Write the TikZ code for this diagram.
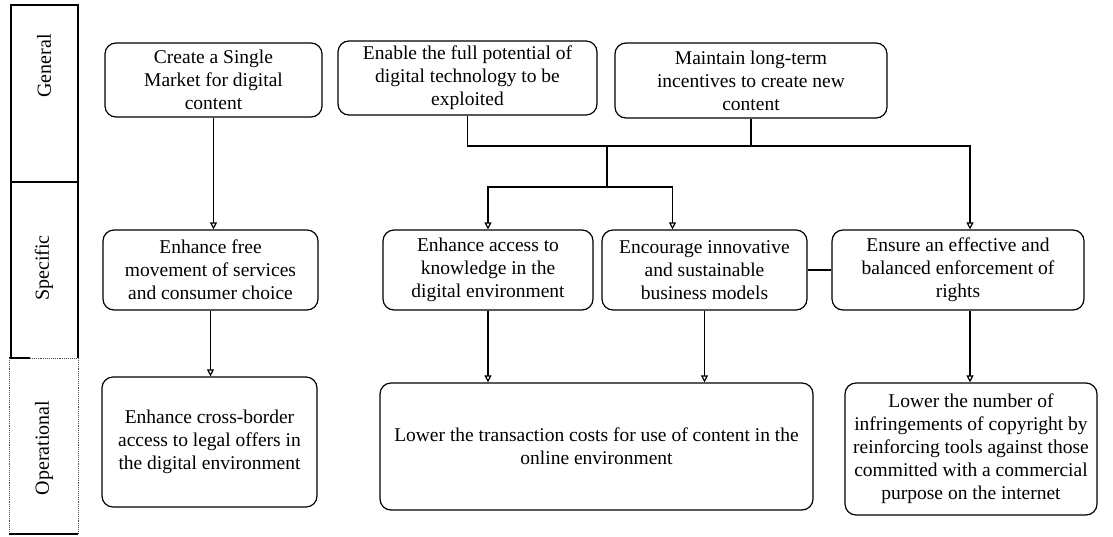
\documentclass[tikz,border=0pt]{standalone}
\usepackage{fontspec}
\setmainfont{Liberation Serif}
\usetikzlibrary{arrows.meta}
\begin{document}
\begin{tikzpicture}[x=1pt,y=-1pt,
  box/.style={draw, line width=1.2pt, rounded corners=11pt, align=center,
    font=\fontsize{19.5}{23}\selectfont, inner sep=0pt},
  conn/.style={line width=1.2pt},
  arr/.style={conn, -{Triangle[open,length=7pt,width=7pt]}},
  band/.style={line width=1.2pt},
  faint/.style={line width=0.9pt, densely dotted, black!70},
  lab/.style={rotate=90, font=\fontsize{20}{24}\selectfont}]
\useasboundingbox (0,0) rectangle (1113,536);

% left band
\draw[band] (11,182) |- (78,5) -- (78,182);
\draw[band] (11,182) -- (11,358);
\draw[band] (78,182) -- (78,358);
\draw[band] (11,182) -- (78,182);
\draw[band] (9,358) -- (30,358);
\draw[faint] (30,358) -- (78,358);
\draw[faint] (9,358) -- (9,534);
\draw[faint] (78,358) -- (78,534);
\draw[band] (9,534) -- (78,534);
\node[lab] (lgen) at (44,66) {General};
\node[lab] (lspe) at (44,268) {Specific};
\node[lab] (lope) at (44,448) {Operational};

% general
\node[box, minimum width=217pt, minimum height=74pt] (create) at (213.5,80) {Create a Single\\Market for digital\\content};
\node[box, minimum width=259pt, minimum height=74pt] (enable) at (467.5,78) {Enable the full potential of\\digital technology to be\\exploited};
\node[box, minimum width=272pt, minimum height=75pt] (maintain) at (751,80.5) {Maintain long-term\\incentives to create new\\content};

% specific
\node[box, minimum width=215pt, minimum height=80pt] (free) at (210.5,270) {Enhance free\\movement of services\\and consumer choice};
\node[box, minimum width=210pt, minimum height=80pt] (access) at (488,270) {Enhance access to\\knowledge in the\\digital environment};
\node[box, minimum width=205pt, minimum height=80pt] (encourage) at (704.5,270) {Encourage innovative\\and sustainable\\business models};
\node[box, minimum width=252pt, minimum height=80pt] (ensure) at (958,270) {Ensure an effective and\\balanced enforcement of\\rights};

% operational
\node[box, minimum width=215pt, minimum height=130pt] (cross) at (209.5,442) {Enhance cross-border\\access to legal offers in\\the digital environment};
\node[box, minimum width=433pt, minimum height=127pt] (trans) at (596.5,446.5) {Lower the transaction costs for use of content in the\\online environment};
\node[box, minimum width=252pt, minimum height=132pt] (lower) at (971,449) {Lower the number of\\infringements of copyright by\\reinforcing tools against those\\committed with a commercial\\purpose on the internet};

% connectors
\coordinate (j1) at (607,146);
\coordinate (j2) at (607,187);
\draw[arr] (create.south) -- (create.south |- free.north);
\draw[conn] (enable.south) |- (j1);
\draw[conn] (maintain.south) -- (maintain.south |- j1);
\draw[arr] (j1) -| ([xshift=12pt]ensure.north);
\draw[conn] (j1) -- (j2);
\draw[arr] (j2) -| (access.north);
\draw[arr] (j2) -| ([xshift=-32pt]encourage.north);
\draw[conn] (encourage.east) -- (ensure.west);
\draw[arr] (free.south) -- (free.south |- cross.north);
\draw[arr] (access.south) -- (access.south |- trans.north);
\draw[arr] (encourage.south) -- (encourage.south |- trans.north);
\draw[arr] ([xshift=12pt]ensure.south) -- ([xshift=12pt]ensure.south |- lower.north);
\end{tikzpicture}
\end{document}
